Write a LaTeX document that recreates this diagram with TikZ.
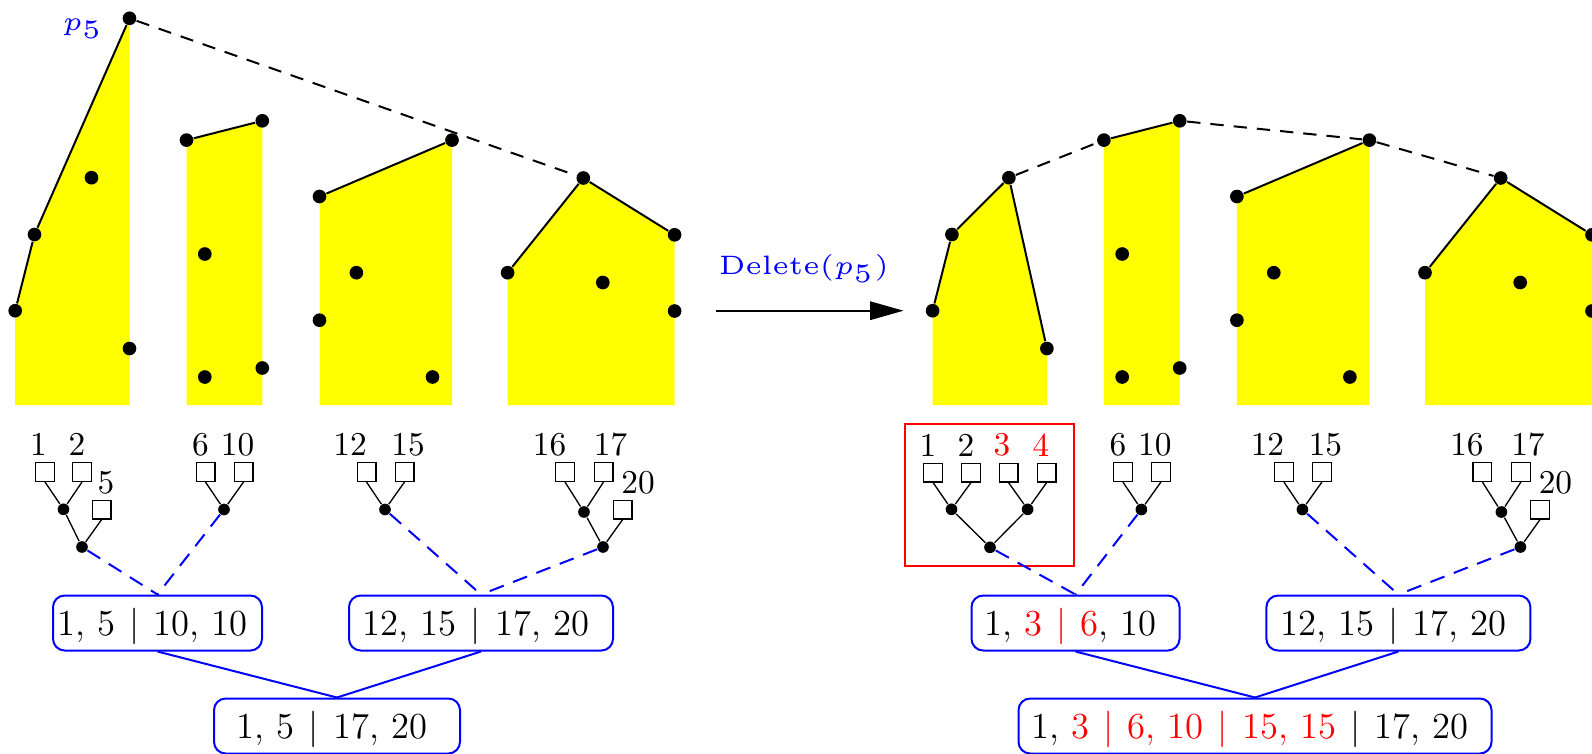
\documentclass[tikz,border=0pt]{standalone}
\usetikzlibrary{arrows.meta}
\pgfdeclarelayer{bg}
\pgfsetlayers{bg,main}
\definecolor{hy}{RGB}{255,255,0}
\definecolor{pblue}{RGB}{0,0,255}
\definecolor{pred}{RGB}{255,0,0}
\tikzset{
  pdot/.style={circle, fill=black, inner sep=0pt, minimum size=4.1pt},
  tdot/.style={circle, fill=black, inner sep=0pt, minimum size=3.5pt},
  leaf/.style={draw, line width=0.4pt, inner sep=0pt, minimum size=5.6pt},
  lab/.style={inner sep=0pt},
  hull/.style={line width=0.6pt},
  hulldash/.style={line width=0.6pt, dash pattern=on 4pt off 3pt},
  tline/.style={line width=0.4pt},
  bdash/.style={pblue, line width=0.6pt, dash pattern=on 4.5pt off 3pt},
  bline/.style={pblue, line width=0.6pt},
  bbox/.style={draw=pblue, line width=0.6pt, rounded corners=3.5pt, minimum height=16.5pt, inner sep=0pt,
    font=\fontsize{11}{13}\selectfont, text height=8.25pt, text depth=0.75pt},
  house/.style={fill=hy},
  smalllab/.style={inner sep=0pt, text=pblue},
}
\newcommand{\smallfnt}[1]{\scalebox{1.6}{\fontsize{5}{6}\selectfont #1}}
\newcommand{\barsep}{\hspace{0.7pt}$\mid$\hspace{0.7pt}}
\newcommand{\housesrest}[1]{%
  % house 2
  \node[pdot] (#1b1) at (186.5,140.1) {};
  \node[pdot] (#1b2) at (262.3,120.8) {};
  \node[pdot] (#1b3) at (204.8,254) {};
  \node[pdot] (#1b4) at (204.8,377) {};
  \node[pdot] (#1b5) at (262.3,368) {};
  \draw[hull] (#1b1) -- (#1b2);
  \begin{pgfonlayer}{bg}
    \fill[house] (186.5,405) -- (#1b1.center) -- (#1b2.center) -- (262.3,405) -- cycle;
  \end{pgfonlayer}
  % house 3
  \node[pdot] (#1c1) at (319.5,196.5) {};
  \node[pdot] (#1c2) at (452,140.1) {};
  \node[pdot] (#1c3) at (356.4,272.7) {};
  \node[pdot] (#1c4) at (319.5,320.2) {};
  \node[pdot] (#1c5) at (432.5,377) {};
  \draw[hull] (#1c1) -- (#1c2);
  \begin{pgfonlayer}{bg}
    \fill[house] (319.5,405) -- (#1c1.center) -- (#1c2.center) -- (452,405) -- cycle;
  \end{pgfonlayer}
  % house 4
  \node[pdot] (#1e1) at (507.6,272.7) {};
  \node[pdot] (#1e2) at (583.3,178) {};
  \node[pdot] (#1e3) at (674.6,234.8) {};
  \node[pdot] (#1e4) at (602.8,282.5) {};
  \node[pdot] (#1e5) at (674.6,311) {};
  \draw[hull] (#1e1) -- (#1e2) -- (#1e3);
  \begin{pgfonlayer}{bg}
    \fill[house] (507.6,405) -- (#1e1.center) -- (#1e2.center) -- (#1e3.center) -- (674.6,405) -- cycle;
  \end{pgfonlayer}
  % tree B
  \node[lab] (#1t6) at (200.5,444.5) {6};
  \node[lab] (#1t10) at (237.5,444.5) {10};
  \node[leaf] (#1s6) at (205.5,472) {};
  \node[leaf] (#1s10) at (243.5,472) {};
  \node[tdot] (#1dB) at (224,509.5) {};
  \draw[tline] (#1s6.south) -- (#1dB);
  \draw[tline] (#1s10.south) -- (#1dB);
  % tree C
  \node[lab] (#1t12) at (350,444.5) {12};
  \node[lab] (#1t15) at (408,444.5) {15};
  \node[leaf] (#1s12) at (366.5,472) {};
  \node[leaf] (#1s15) at (404.5,472) {};
  \node[tdot] (#1dC) at (385,509.5) {};
  \draw[tline] (#1s12.south) -- (#1dC);
  \draw[tline] (#1s15.south) -- (#1dC);
  % tree D
  \node[lab] (#1t16) at (549.5,444.5) {16};
  \node[lab] (#1t17) at (610.5,444.5) {17};
  \node[lab] (#1t20) at (638,482.5) {20};
  \node[leaf] (#1s16) at (565,472) {};
  \node[leaf] (#1s17) at (603.5,472) {};
  \node[leaf] (#1s20) at (622.5,509.7) {};
  \node[tdot] (#1dD) at (584,512) {};
  \node[tdot] (#1rD) at (603,547) {};
  \draw[tline] (#1s16.south) -- (#1dD);
  \draw[tline] (#1s17.south) -- (#1dD);
  \draw[tline] (#1dD) -- (#1rD);
  \draw[tline] (#1s20.south) -- (#1rD);
  % box 2
  \node[bbox, minimum width=79.2pt] (#1box2) at (481,623) {12, 15 \barsep{} 17, 20\kern3pt};
  \draw[bdash] (#1dC) -- (#1box2.north);
  \draw[bdash] (#1rD) -- (#1box2.north);
}
\begin{document}
\begin{tikzpicture}[x=0.3pt, y=-0.3pt]
\useasboundingbox (0,0) rectangle (1592,753);
\clip (0,0) rectangle (1592,753);

% ---------------- left side ----------------
\node[pdot] (La1) at (15.2,310.7) {};
\node[pdot] (La2) at (34.5,234.5) {};
\node[pdot] (p5) at (129.5,18.3) {};
\node[pdot] (La4) at (91.5,177.7) {};
\node[pdot] (La5) at (129.5,348.5) {};
\draw[hull] (La1) -- (La2) -- (p5);
\begin{pgfonlayer}{bg}
  \fill[house] (15.2,405) -- (La1.center) -- (La2.center) -- (p5.center) -- (129.5,405) -- cycle;
\end{pgfonlayer}
\node[smalllab] (p5lab) at (83,28.5) {\smallfnt{$p_5$}};

\housesrest{L}
\draw[hulldash] (p5) -- (Le2);

% tree A left
\node[lab] (Lt1) at (38.5,444.5) {1};
\node[lab] (Lt2) at (77,444.5) {2};
\node[lab] (Lt5) at (106,482.5) {5};
\node[leaf] (Ls1) at (45,472) {};
\node[leaf] (Ls2) at (82,472) {};
\node[leaf] (Ls5) at (101.5,509.7) {};
\node[tdot] (LdA) at (63.5,509.3) {};
\node[tdot] (LrA) at (82,547) {};
\draw[tline] (Ls1.south) -- (LdA);
\draw[tline] (Ls2.south) -- (LdA);
\draw[tline] (LdA) -- (LrA);
\draw[tline] (Ls5.south) -- (LrA);

\node[bbox, minimum width=62.7pt] (Lbox1) at (157.5,623) {1, 5 \barsep{} 10, 10\kern3pt};
\node[bbox, minimum width=73.8pt] (Lbox3) at (337,726) {1, 5 \barsep{} 17, 20\kern3pt};
\draw[bdash] (LrA) -- (Lbox1.north);
\draw[bdash] (LdB) -- (Lbox1.north);
\draw[bline] (Lbox1.south) -- (Lbox3.north);
\draw[bline] (Lbox2.south) -- (Lbox3.north);

% ---------------- arrow ----------------
\coordinate (arrS) at (715.5,310.7);
\coordinate (arrE) at (903.5,310.7);
\draw[line width=0.6pt, -{Triangle[length=10pt, width=5.5pt]}] (arrS) -- (arrE);
\node[smalllab] (dlab) at (804,268) {\smallfnt{Delete$(p_5)$}};

% ---------------- right side ----------------
\node[pdot] (Ra1) at (932.6,310.7) {};
\node[pdot] (Ra2) at (951.9,234.5) {};
\node[pdot] (Ra3) at (1008.9,177.7) {};
\node[pdot] (Ra4) at (1046.9,348.5) {};
\draw[hull] (Ra1) -- (Ra2) -- (Ra3) -- (Ra4);
\begin{pgfonlayer}{bg}
  \fill[house] (932.6,405) -- (Ra1.center) -- (Ra2.center) -- (Ra3.center) -- (Ra4.center) -- (1046.9,405) -- cycle;
\end{pgfonlayer}

\begin{scope}[shift={(917.4,0)}]
  \housesrest{R}
\end{scope}
\draw[hulldash] (Ra3) -- (Rb1);
\draw[hulldash] (Rb2) -- (Rc2) -- (Re2);

% tree A right
\node[draw=pred, line width=0.6pt, minimum width=50.7pt, minimum height=42.6pt, inner sep=0pt] (redframe) at (989.5,495) {};
\node[lab] (Rt1) at (928,445) {1};
\node[lab] (Rt2) at (966,445) {2};
\node[lab, text=pred] (Rt3) at (1002,445) {3};
\node[lab, text=pred] (Rt4) at (1041,445) {4};
\node[leaf] (Rs1) at (933,472.5) {};
\node[leaf] (Rs2) at (971,472.5) {};
\node[leaf] (Rs3) at (1008.5,472.5) {};
\node[leaf] (Rs4) at (1046.7,472.5) {};
\node[tdot] (RdA1) at (951.5,509.3) {};
\node[tdot] (RdA2) at (1027.6,509.3) {};
\node[tdot] (RrA) at (990,547.3) {};
\draw[tline] (Rs1.south) -- (RdA1);
\draw[tline] (Rs2.south) -- (RdA1);
\draw[tline] (Rs3.south) -- (RdA2);
\draw[tline] (Rs4.south) -- (RdA2);
\draw[tline] (RdA1) -- (RrA);
\draw[tline] (RdA2) -- (RrA);

\node[bbox, minimum width=62.4pt] (Rbox1) at (1075.5,623) {1, {\color{pred}3 \barsep{} 6}, 10\kern3pt};
\node[bbox, minimum width=141.9pt] (Rbox3) at (1255,726) {1, {\color{pred}3 \barsep{} 6, 10 \barsep{} 15, 15} \barsep{} 17, 20\kern3pt};
\draw[bdash] (RrA) -- (Rbox1.north);
\draw[bdash] (RdB) -- (Rbox1.north);
\draw[bline] (Rbox1.south) -- (Rbox3.north);
\draw[bline] (Rbox2.south) -- (Rbox3.north);
\end{tikzpicture}
\end{document}
